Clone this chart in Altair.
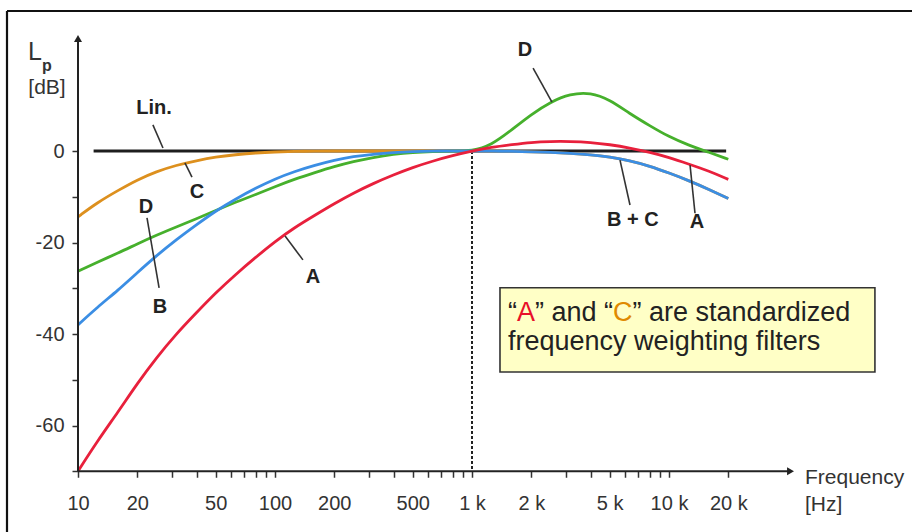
import altair as alt
import pandas as pd

# ---------------- data ----------------
freqs = [10, 12.5, 16, 20, 25, 31.5, 40, 50, 63, 80, 100, 125, 160, 200, 250, 315, 400, 500, 630, 800,
         1000, 1250, 1600, 2000, 2500, 3150, 4000, 5000, 6300, 8000, 10000, 12500, 16000, 20000]

a_db = [-70.0, -63.5, -57.0, -50.8, -45.2, -40.0, -35.3, -31.0, -27.0, -23.2, -19.8, -16.8, -14.0, -11.5,
        -9.2, -7.1, -5.2, -3.6, -2.2, -1.0, 0.0, 0.8, 1.4, 1.9, 2.1, 2.1, 1.9, 1.4, 0.7, -0.3, -1.4, -2.8,
        -4.4, -6.2]
b_db = [-38.0, -34.2, -30.4, -26.6, -22.9, -19.4, -16.1, -13.1, -10.5, -8.1, -6.1, -4.5, -3.1, -2.0,
        -1.2, -0.7, -0.3, -0.1, 0.0, 0.0, 0.0, 0.0, -0.1, -0.2, -0.3, -0.5, -0.8, -1.3, -2.1, -3.3, -4.8,
        -6.4, -8.4, -10.4]
c_db = [-14.4, -11.3, -8.6, -6.3, -4.5, -3.1, -2.1, -1.3, -0.8, -0.4, -0.2, -0.1, 0.0, 0.0,
        0.0, 0.0, 0.0, 0.0, 0.0, 0.0, 0.0, 0.0, -0.1, -0.2, -0.3, -0.5, -0.8, -1.3, -2.1, -3.3, -4.8,
        -6.4, -8.4, -10.4]
d_db = [-26.3, -24.3, -22.3, -20.3, -18.4, -16.6, -14.8, -13.0, -11.2, -9.5, -7.8, -6.2, -4.7, -3.4,
        -2.3, -1.4, -0.7, -0.3, -0.1, 0.0, 0.0, 1.2, 4.7, 8.0, 10.7, 12.5, 12.8, 11.2, 8.2, 5.5, 3.1,
        1.3, -0.3, -1.8]
lin_f = [12, 19500]
lin_db = [0, 0]

x_tick_values = [10, 20, 30, 40, 50, 60, 70, 80, 90,
                 100, 200, 300, 400, 500, 600, 700, 800, 900,
                 1000, 2000, 3000, 4000, 5000, 6000, 7000, 8000, 9000,
                 10000, 20000]
x_labeled = [10, 20, 50, 100, 200, 500]
x_labeled_k = [1000, 2000, 5000, 10000, 20000]
y_tick_values = [-70, -60, -50, -40, -30, -20, -10, 0]

# curve annotations: label, frequency, dB
ann_labels = ["Lin.", "C", "D", "B", "A", "D", "B + C", "A"]
ann_f = [24.3, 40.2, 22.1, 26.1, 156, 1858, 6559, 13870]
ann_db = [9.4, -9.0, -12.2, -34.1, -27.5, 22.1, -15.1, -15.5]
# leader lines: start f/dB, end f/dB
lead_f1 = [24.0, 34.9, 22.4, 112.5, 2042, 5640, 12790]
lead_db1 = [5.7, -2.6, -14.6, -18.6, 18.1, -2.0, -3.1]
lead_f2 = [27.0, 37.9, 25.8, 138.6, 2546, 6339, 13550]
lead_db2 = [0.66, -5.7, -29.9, -23.8, 10.7, -11.8, -13.6]

# ---------------- layout ----------------
VIEW_W, VIEW_H = 905, 521
PX_DEC = 197.0          # pixels per decade
X10_PX = 71.0           # 10 Hz from the left edge of the view
PX_DB = 4.575           # pixels per dB
Y0_PX = 140.0           # 0 dB from the top of the view
x_dom = [10 ** (1 - X10_PX / PX_DEC), 10 ** (1 + (VIEW_W - X10_PX) / PX_DEC)]
y_dom = [-(VIEW_H - Y0_PX) / PX_DB, Y0_PX / PX_DB]

FONT = "Liberation Sans"
xs = alt.Scale(type="log", domain=x_dom, nice=False, zero=False)
ys = alt.Scale(domain=y_dom, nice=False, zero=False)

x_axis = alt.Axis(
    values=x_tick_values, domain=False, grid=False, ticks=True, tickSize=6,
    tickWidth=1.5, tickColor="#333", offset=-(VIEW_H - Y0_PX - 70 * PX_DB),
    labelFont=FONT, labelFontSize=20, labelColor="#333", labelPadding=16,
    labelOverlap=False, labelFlush=False, title=None,
    labelExpr=("indexof(%s, datum.value) >= 0 ? '' + datum.value : "
               "(indexof(%s, datum.value) >= 0 ? (datum.value / 1000) + ' k' : '')")
              % (x_labeled, x_labeled_k))
y_axis = alt.Axis(
    values=y_tick_values, domain=False, grid=False, ticks=True, tickSize=6,
    tickWidth=1.5, tickColor="#333", offset=-X10_PX,
    labelFont=FONT, labelFontSize=20, labelColor="#333", labelPadding=8,
    labelOverlap=False, labelFlush=False, title=None,
    labelExpr="(datum.value % 20 == 0 && datum.value > -70) ? '' + datum.value : ''")


def X(field="f"):
    return alt.X(f"{field}:Q", scale=xs, axis=x_axis)


def Y(field="db"):
    return alt.Y(f"{field}:Q", scale=ys, axis=y_axis)


# axis lines + arrows
xline = alt.Chart(pd.DataFrame({"f": [10], "f2": [41400], "db": [-70]})).mark_rule(
    color="#222", strokeWidth=2).encode(x=X(), x2="f2:Q", y=Y())
yline = alt.Chart(pd.DataFrame({"f": [10], "db": [-70], "db2": [24.6]})).mark_rule(
    color="#222", strokeWidth=2).encode(x=X(), y=Y(), y2="db2:Q")
arr_up = alt.Chart(pd.DataFrame({"f": [10], "db": [24.6]})).mark_point(
    shape="triangle-up", filled=True, color="#222", size=64, opacity=1).encode(x=X(), y=Y())
arr_right = alt.Chart(pd.DataFrame({"f": [41400], "db": [-70]})).mark_point(
    shape="triangle-right", filled=True, color="#222", size=64, opacity=1).encode(x=X(), y=Y())

# dashed 1 kHz line
dash = alt.Chart(pd.DataFrame({"f": [1000], "db": [0], "db2": [-70]})).mark_rule(
    color="#222", strokeWidth=2, strokeDash=[3, 2]).encode(x=X(), y=Y(), y2="db2:Q")


def curve(fs, vals, color, width=2.8):
    df = pd.DataFrame({"f": fs, "db": vals})
    return alt.Chart(df).mark_line(color=color, strokeWidth=width, interpolate="basis").encode(
        x=X(), y=Y())


lin = curve(lin_f, lin_db, "#1e1e1e", 2.8)
c_curve = curve(freqs, c_db, "#dd901e")
d_curve = curve(freqs, d_db, "#46b02c")
b_curve = curve(freqs, b_db, "#3b8ee4")
a_curve = curve(freqs, a_db, "#e8203c")

# annotations
ann = alt.Chart(pd.DataFrame({"t": ann_labels, "f": ann_f, "db": ann_db})).mark_text(
    font=FONT, fontSize=20, fontWeight="bold", color="#222", align="center", baseline="middle"
).encode(x=X(), y=Y(), text="t:N")
leads = alt.Chart(pd.DataFrame({"f": lead_f1, "db": lead_db1, "f2": lead_f2, "db2": lead_db2})).mark_rule(
    color="#333", strokeWidth=1.6).encode(x=X(), y=Y(), x2="f2:Q", y2="db2:Q")

# axis titles
lp_L = alt.Chart(pd.DataFrame({"t": ["L"], "f": [6.05], "db": [21.6]})).mark_text(
    font=FONT, fontSize=25, color="#333", align="center", baseline="middle").encode(x=X(), y=Y(), text="t:N")
lp_p = alt.Chart(pd.DataFrame({"t": ["p"], "f": [6.95], "db": [18.6]})).mark_text(
    font=FONT, fontSize=16, fontWeight="bold", color="#333", align="center", baseline="middle").encode(
    x=X(), y=Y(), text="t:N")
ytitle = alt.Chart(pd.DataFrame({"t": ["[dB]"], "f": [6.96], "db": [13.8]})).mark_text(
    font=FONT, fontSize=21, color="#333", align="center", baseline="middle").encode(x=X(), y=Y(), text="t:N")
xtitle = alt.Chart(pd.DataFrame({"t": ["Frequency", "[Hz]"], "f": [49000, 49000], "db": [-71.5, -77.4]})).mark_text(
    font=FONT, fontSize=21, color="#333", align="left", baseline="middle").encode(x=X(), y=Y(), text="t:N")

# note box
box = alt.Chart(pd.DataFrame({"f": [1387], "f2": [111000], "db": [-29.9], "db2": [-48.3]})).mark_rect(
    fill="#ffffc6", stroke="#333", strokeWidth=1.6).encode(x=X(), x2="f2:Q", y=Y(), y2="db2:Q")

FS = 27
line1_f, line1_db = 1524, -35.4
line2_db = -41.7
segs = [("\u201c", "#222", 0.0), ("A", "#e8102a", 0.333), ("\u201d and \u201c", "#222", 1.0),
        ("C", "#e08a00", 3.89), ("\u201d are standardized", "#222", 4.612)]
note_layers = []
for txt, col, em in segs:
    note_layers.append(alt.Chart(pd.DataFrame({"t": [txt], "f": [line1_f], "db": [line1_db]})).mark_text(
        font=FONT, fontSize=FS, color=col, align="left", baseline="middle", dx=em * FS
    ).encode(x=X(), y=Y(), text="t:N"))
note_layers.append(alt.Chart(pd.DataFrame({"t": ["frequency weighting filters"], "f": [line1_f],
                                            "db": [line2_db]})).mark_text(
    font=FONT, fontSize=FS, color="#222", align="left", baseline="middle").encode(x=X(), y=Y(), text="t:N"))

# frame (top and left edges)
frame_src = pd.DataFrame({"f": [10], "db": [0]})
frame_l = alt.Chart(frame_src).mark_rule(color="#111", strokeWidth=2.2).encode(
    x=alt.value(0), y=alt.value(0), y2=alt.value(VIEW_H))
frame_t = alt.Chart(frame_src).mark_rule(color="#111", strokeWidth=2.2).encode(
    x=alt.value(0), x2=alt.value(VIEW_W), y=alt.value(0))

chart = alt.layer(
    frame_l, frame_t, dash, lin, c_curve, d_curve, b_curve, a_curve,
    xline, yline, arr_up, arr_right, leads, ann, lp_L, lp_p, ytitle, xtitle, box, *note_layers
).properties(
    width=VIEW_W, height=VIEW_H,
    autosize=alt.AutoSizeParams(type="none"),
    padding={"left": 7, "top": 11, "right": 0, "bottom": 0},
    background="white",
).configure_view(stroke=None)

chart.save("out.html", embed_options={"renderer": "svg", "actions": False})
